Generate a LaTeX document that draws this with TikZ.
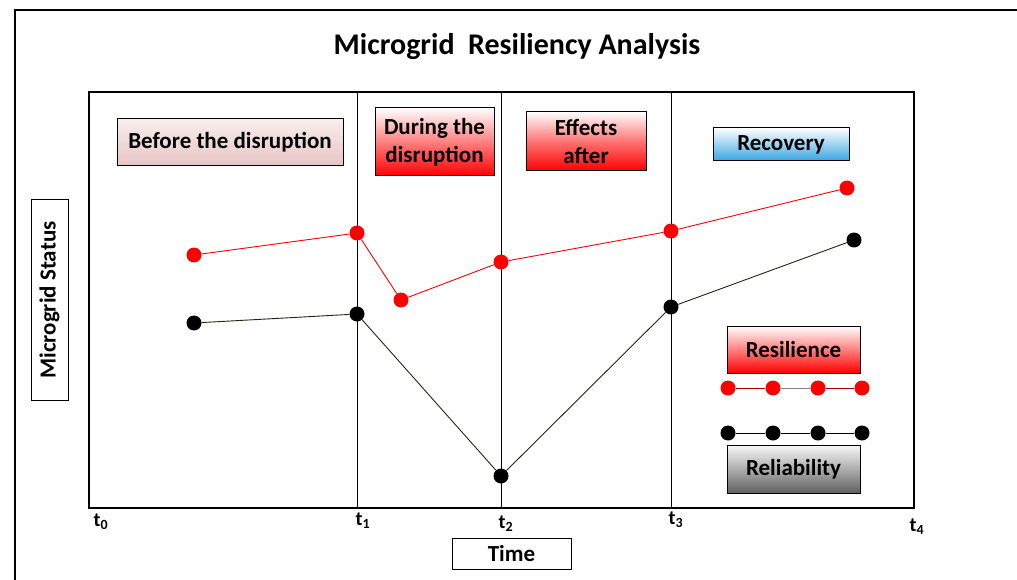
\documentclass[tikz,border=0pt]{standalone}
\usepackage{fontspec}
\setmainfont{Carlito}
\usetikzlibrary{positioning}
\definecolor{darkline}{RGB}{30,40,12}
\definecolor{skyblue}{RGB}{55,165,225}
\definecolor{pinkTop}{RGB}{249,238,238}
\definecolor{pinkBot}{RGB}{232,196,196}
\tikzset{
  phase/.style={
    draw=black,
    line width=1pt,
    font=\bfseries\fontsize{23}{28}\selectfont,
    align=center,
    inner sep=0pt
  },
  redpt/.style={circle, fill=red, inner sep=0pt, minimum size=15pt},
  blkpt/.style={circle, fill=black, inner sep=0pt, minimum size=15pt},
  tlabel/.style={font=\bfseries\fontsize{20}{22}\selectfont, inner sep=0pt}
}

\begin{document}
\begin{tikzpicture}[x=1pt,y=-1pt]
\useasboundingbox (0,0) rectangle (1017,580);
% outer frame
\draw[line width=1.3pt] (15,580) -- (15,10) -- (1017,10);
\node[font=\bfseries\fontsize{30}{32}\selectfont] (title) at (517,47)
  {Microgrid\ \ Resiliency Analysis};

\node[draw, line width=1.3pt, minimum width=825pt, minimum height=416pt,
  inner sep=0pt] (plot) at (501.5,300) {};
\foreach \x/\n in {357/1, 501/2, 671/3}{
  \coordinate (div\n) at (\x,300);
  \draw[line width=0.9pt] (plot.north -| div\n) -- (plot.south -| div\n);
}

% time marks
\node[tlabel] (t0) at (101,522) {t\textsubscript{0}};
\node[tlabel] (t1) at (363,521) {t\textsubscript{1}};
\node[tlabel] (t2) at (506,524) {t\textsubscript{2}};
\node[tlabel] (t3) at (676,520) {t\textsubscript{3}};
\node[tlabel] (t4) at (917,527) {t\textsubscript{4}};

\node[phase, minimum width=119pt, minimum height=31pt] (time) at (511.5,553.5) {Time};
\node[phase, rotate=90, minimum width=200pt, minimum height=37pt] (status)
  at (49.5,300) {Microgrid Status};

% phases
\node[phase, top color=pinkTop, bottom color=pinkBot,
  minimum width=226pt, minimum height=47pt] (before) at (230,142)
  {Before the disruption};
\node[phase, top color=white, bottom color=red,
  minimum width=119pt, minimum height=68pt] (during) at (434.5,142)
  {During the\\disruption};
\node[phase, top color=white, bottom color=red, middle color=red!55,
  minimum width=120pt, minimum height=59pt] (effects) at (586,141.5)
  {Effects\\after};
\node[phase, top color=white, bottom color=skyblue,
  minimum width=136pt, minimum height=33pt] (recovery) at (781,144.5)
  {Recovery};

% resilience
\node[redpt] (r1) at (194,255) {};
\node[redpt] (r2) at (357,233) {};
\node[redpt] (r3) at (401,300) {};
\node[redpt] (r4) at (501,262) {};
\node[redpt] (r5) at (671,231) {};
\node[redpt] (r6) at (847,188) {};
\draw[red, line width=0.9pt] (r1) -- (r2) -- (r3) -- (r4) -- (r5) -- (r6);

% reliability
\node[blkpt] (b1) at (194,323) {};
\node[blkpt] (b2) at (357,314) {};
\node[blkpt] (b3) at (501,476) {};
\node[blkpt] (b4) at (671,307) {};
\node[blkpt] (b5) at (854,240) {};
\draw[darkline, line width=0.9pt] (b1) -- (b2) -- (b3) -- (b4) -- (b5);

% legend
\node[phase, top color=white, bottom color=red,
  minimum width=133pt, minimum height=47pt] (resil) at (793.5,349.5) {Resilience};
\node[phase, top color=gray!5, bottom color=black!62,
  minimum width=133pt, minimum height=48pt] (relia) at (793.5,469) {Reliability};
\foreach \i/\x in {1/728, 2/773, 3/818, 4/862}{
  \node[redpt] (lr\i) at (\x,388) {};
  \node[blkpt] (lb\i) at (\x,433) {};
}
\draw[red!65!black, line width=0.9pt] (lr1) -- (lr2);
\draw[gray, line width=0.9pt] (lr2) -- (lr3);
\draw[red!65!black, line width=0.9pt] (lr3) -- (lr4);
\draw[line width=0.9pt] (lb1) -- (lb2) -- (lb3) -- (lb4);
\end{tikzpicture}
\end{document}
